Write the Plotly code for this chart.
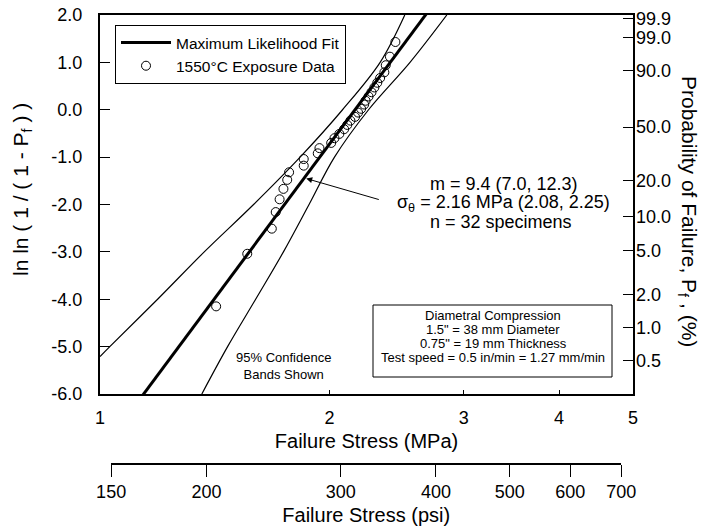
import numpy as np
import plotly.graph_objects as go

# Failure stress (MPa) of the 32 specimens, in rank order
stress_mpa = [1.42, 1.56, 1.68, 1.70, 1.72, 1.74, 1.76, 1.77, 1.85, 1.85,
              1.93, 1.94, 2.01, 2.03, 2.06, 2.09, 2.11, 2.13, 2.16, 2.18,
              2.20, 2.22, 2.23, 2.25, 2.27, 2.29, 2.31, 2.33, 2.36, 2.37,
              2.40, 2.44]
# ln ln(1/(1-Pf)) plotting position of each specimen
lnln_pf = [-4.15, -3.04, -2.51, -2.16, -1.89, -1.67, -1.48, -1.32, -1.18, -1.04,
           -0.92, -0.81, -0.70, -0.60, -0.51, -0.41, -0.32, -0.23, -0.15, -0.06,
           0.02, 0.11, 0.19, 0.28, 0.37, 0.47, 0.57, 0.67, 0.79, 0.94,
           1.12, 1.43]

# Maximum likelihood Weibull parameters
weibull_m = 9.4
sigma_theta = 2.16
fit_span_mpa = [1.10, 2.75]

# 95% confidence bands (stress MPa, ln ln value)
band_lo_mpa = [1.00, 1.03, 1.19, 1.37, 1.59, 1.83, 2.08, 2.33, 2.51]
band_lo_y = [-5.21, -5.00, -4.00, -3.00, -2.00, -1.00, 0.00, 1.00, 2.00]
band_hi_mpa = [1.36, 1.47, 1.60, 1.74, 1.88, 2.03, 2.25, 2.55, 2.85]
band_hi_y = [-6.00, -5.00, -4.00, -3.00, -2.00, -1.00, 0.00, 1.00, 2.00]

# Axis ticks
mpa_ticks = [1, 2, 3, 4, 5]
psi_ticks = [150, 200, 300, 400, 500, 600, 700]
lnln_ticks = [-6, -5, -4, -3, -2, -1, 0, 1, 2]
prob_ticks = [99.9, 99.0, 90.0, 50.0, 20.0, 10.0, 5.0, 2.0, 1.0, 0.5]
PSI_PER_MPA = 145.038

info_lines = ["Diametral Compression",
              '1.5" = 38 mm Diameter',
              '0.75" = 19 mm Thickness',
              "Test speed = 0.5 in/min = 1.27 mm/min"]

FONT = "Liberation Sans, Arial, Helvetica, sans-serif"
W, H = 705, 529
ML, MR, MT, MB = 100, 72, 15, 20
PW, PH = W - ML - MR, H - MT - MB


def xp(px):
    return (px - ML) / PW


def yp(py):
    return (H - MB - py) / PH


fig = go.Figure()

fit_x = np.array(fit_span_mpa)
fit_y = weibull_m * np.log(fit_x / sigma_theta)

fig.add_trace(go.Scatter(x=band_lo_mpa, y=band_lo_y, mode="lines",
                         line=dict(color="black", width=1.2, shape="spline"),
                         showlegend=False, hoverinfo="skip"))
fig.add_trace(go.Scatter(x=band_hi_mpa, y=band_hi_y, mode="lines",
                         line=dict(color="black", width=1.2, shape="spline"),
                         showlegend=False, hoverinfo="skip"))
fig.add_trace(go.Scatter(x=fit_x, y=fit_y, mode="lines",
                         line=dict(color="black", width=3),
                         name="Maximum Likelihood Fit"))
fig.add_trace(go.Scatter(x=stress_mpa, y=lnln_pf, mode="markers",
                         marker=dict(symbol="circle-open", size=9,
                                     color="black", line=dict(width=1)),
                         name="1550°C Exposure Data"))
# carrier for the psi scale
fig.add_trace(go.Scatter(x=[psi_ticks[0], psi_ticks[-1]], y=[None, None],
                         xaxis="x2", yaxis="y", mode="markers",
                         showlegend=False, hoverinfo="skip"))
# carrier for the probability scale
fig.add_trace(go.Scatter(x=[None], y=[None], yaxis="y2", mode="markers",
                         showlegend=False, hoverinfo="skip"))

prob_vals = [float(np.log(-np.log(1 - p / 100.0))) for p in prob_ticks]
lmax = np.log10(5)
psi_lo = np.log10(psi_ticks[0] / PSI_PER_MPA) / lmax
psi_hi = np.log10(psi_ticks[-1] / PSI_PER_MPA) / lmax

tickfont = dict(family=FONT, size=18, color="black")
fig.update_layout(
    width=W, height=H,
    margin=dict(l=ML, r=MR, t=MT, b=MB),
    paper_bgcolor="white", plot_bgcolor="rgba(0,0,0,0)",
    font=dict(family=FONT, color="black"),
    xaxis=dict(type="log", range=[0, lmax], domain=[0, 1], anchor="y",
               tickvals=mpa_ticks, ticktext=[str(v) for v in mpa_ticks],
               ticks="inside", ticklen=4, tickcolor="black",
               showline=True, linecolor="black", linewidth=2, mirror=True,
               showgrid=False, zeroline=False, tickfont=tickfont,
               ticklabelstandoff=6, automargin=False,
               title=dict(text="Failure Stress (MPa)", standoff=7,
                          font=dict(family=FONT, size=20))),
    xaxis2=dict(type="log",
                range=[np.log10(psi_ticks[0]), np.log10(psi_ticks[-1])],
                domain=[psi_lo, psi_hi], anchor="free", position=yp(464),
                side="bottom",
                tickvals=psi_ticks, ticktext=[str(v) for v in psi_ticks],
                ticks="outside", ticklen=12, tickcolor="black",
                showline=True, linecolor="black", linewidth=1.5,
                showgrid=False, zeroline=False, tickfont=tickfont,
                automargin=False,
                title=dict(text="Failure Stress (psi)", standoff=6,
                           font=dict(family=FONT, size=20))),
    yaxis=dict(range=[-6, 2], domain=[yp(394), 1], anchor="x",
               tickvals=lnln_ticks, ticktext=[f"{v:.1f}" for v in lnln_ticks],
               ticks="inside", ticklen=10, tickcolor="black",
               showline=True, linecolor="black", linewidth=2, mirror=True,
               showgrid=False, zeroline=False, tickfont=tickfont,
               ticklabelstandoff=12, automargin=False),
    yaxis2=dict(range=[-6, 2], overlaying="y", side="right", anchor="x",
                tickvals=prob_vals, ticktext=[f"{p:.1f}" for p in prob_ticks],
                ticks="inside", ticklen=10, tickcolor="black",
                showline=False, showgrid=False, zeroline=False,
                tickfont=tickfont, ticklabelstandoff=2, automargin=False),
    legend=dict(x=xp(115), y=yp(25), xanchor="left", yanchor="top",
                bordercolor="black", borderwidth=1, bgcolor="white",
                font=dict(family=FONT, size=15.5), itemwidth=50,
                tracegroupgap=0),
)

ann = []


def label(text, px, py, size, angle=0):
    ann.append(dict(text=text, textangle=angle, x=xp(px), y=yp(py),
                    xref="paper", yref="paper", xanchor="center",
                    yanchor="middle", showarrow=False,
                    font=dict(family=FONT, size=size, color="black")))


label("ln ln ( 1 / ( 1 - P<sub>f</sub> ) )", 22, 190, 21, -90)
label("Probability of Failure, P<sub>f</sub> , (%)", 688, 211, 21, 90)
label(f"m = {weibull_m} (7.0, 12.3)", 504, 183.5, 18)
label(f"σ<sub>θ</sub> = {sigma_theta} MPa (2.08, 2.25)", 503, 203, 18)
label("n = 32 specimens", 501, 222, 18)
label("95% Confidence<br>Bands Shown", 283, 366, 13)
for i, line in enumerate(info_lines):
    label(line, 493, 315 + 14 * i, 13)

# arrow to the fitted line
arrow_y = -1.44
arrow_x = sigma_theta * np.exp(arrow_y / weibull_m)
ann.append(dict(text="", x=np.log10(arrow_x), y=arrow_y, xref="x", yref="y",
                showarrow=True, ax=76, ay=22, arrowhead=2, arrowsize=1.2,
                arrowwidth=1, arrowcolor="black", standoff=2))
fig.update_layout(annotations=ann)

fig.add_shape(type="rect", xref="paper", yref="paper",
              x0=xp(373), x1=xp(612), y0=yp(377), y1=yp(305),
              line=dict(color="black", width=1), fillcolor="white",
              layer="below")

fig.write_html("out.html")
